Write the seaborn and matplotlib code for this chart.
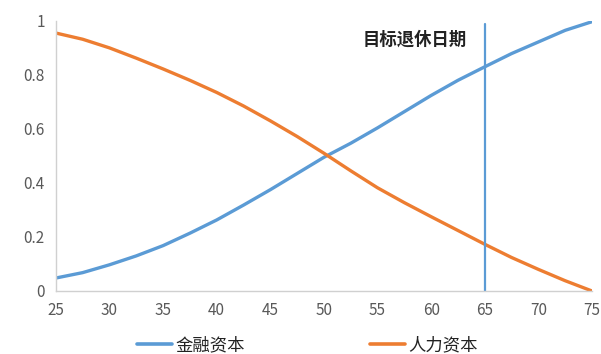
import numpy as np
import pandas as pd
import seaborn as sns
import matplotlib.pyplot as plt

# age and share of total wealth (read every 2.5 years)
ages = [25, 27.5, 30, 32.5, 35, 37.5, 40, 42.5, 45, 47.5, 50,
        52.5, 55, 57.5, 60, 62.5, 65, 67.5, 70, 72.5, 75]
financial = [0.048, 0.068, 0.097, 0.13, 0.168, 0.214, 0.263, 0.318, 0.375, 0.435, 0.495,
             0.547, 0.604, 0.664, 0.724, 0.78, 0.83, 0.879, 0.922, 0.965, 0.997]
human = [0.955, 0.932, 0.900, 0.862, 0.822, 0.78, 0.735, 0.685, 0.63, 0.572, 0.51,
         0.445, 0.382, 0.327, 0.275, 0.224, 0.173, 0.124, 0.08, 0.038, 0.0]
retire_age = 65
series_names = ['金融资本', '人力资本']
colors = ['#5B9BD5', '#ED7D31']

df = pd.DataFrame({'age': ages * 2,
                   'value': financial + human,
                   'series': [series_names[0]] * len(ages) + [series_names[1]] * len(ages)})

sns.set_style('white')
plt.rcParams['font.family'] = ['Noto Sans CJK SC', 'DejaVu Sans']

fig = plt.figure(figsize=(6.01, 3.54), dpi=100)
ax = fig.add_axes([0.093, 0.178, 0.892, 0.763])

sns.lineplot(data=df, x='age', y='value', hue='series', palette=colors,
             linewidth=2.4, ax=ax, legend=True)

ax.axvline(retire_age, ymin=0, ymax=0.99, color=colors[0], linewidth=1.6)
ax.text(63.3, 0.93, '目标退休日期', ha='right', va='center',
        fontsize=12.5, fontweight='bold', color='#222222')

ax.set_xlim(25, 75)
ax.set_ylim(0, 1)
ax.set_xticks(range(25, 76, 5))
ax.set_yticks([0, 0.2, 0.4, 0.6, 0.8, 1])
ax.set_yticklabels(['0', '0.2', '0.4', '0.6', '0.8', '1'])
ax.set_xlabel('')
ax.set_ylabel('')
ax.tick_params(axis='both', labelsize=11, labelcolor='#595959', length=0, pad=8)

for s in ['top', 'right']:
    ax.spines[s].set_visible(False)
for s in ['left', 'bottom']:
    ax.spines[s].set_color('#D0D0D0')
    ax.spines[s].set_linewidth(1)

leg = ax.legend(loc='upper center', bbox_to_anchor=(0.469, -0.11), ncol=2,
                frameon=False, fontsize=12.5, handlelength=2.0, handletextpad=0.2,
                columnspacing=7.2)
for line in leg.get_lines():
    line.set_linewidth(2.6)
for t in leg.get_texts():
    t.set_color('#222222')

fig.savefig('out.png', dpi=100)
